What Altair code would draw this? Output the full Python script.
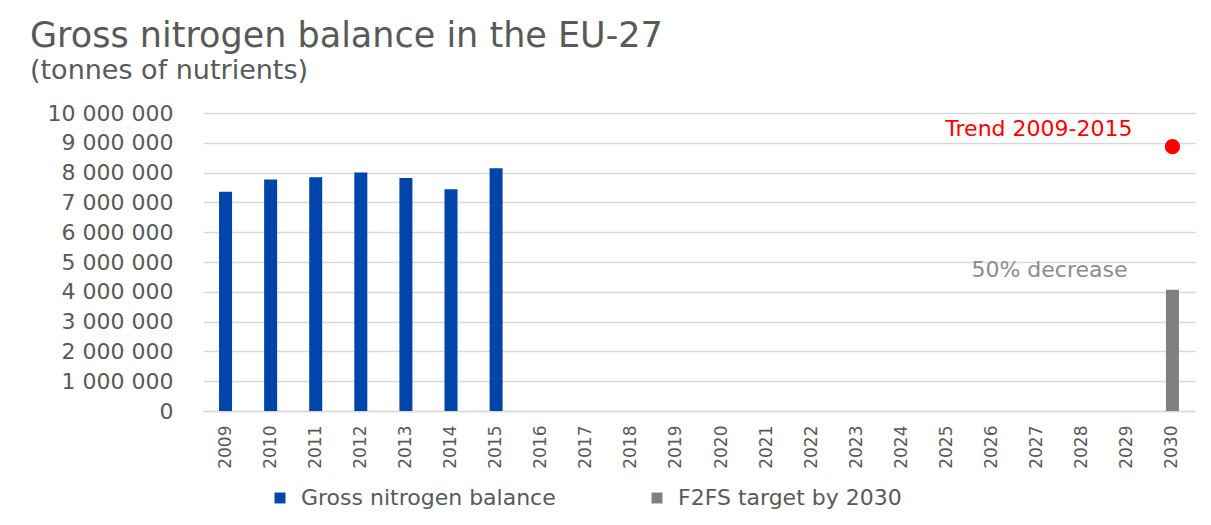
import altair as alt
import pandas as pd

# ---- data ----
years = ["2009", "2010", "2011", "2012", "2013", "2014", "2015", "2016", "2017",
         "2018", "2019", "2020", "2021", "2022", "2023", "2024", "2025", "2026",
         "2027", "2028", "2029", "2030"]

gnb_years = ["2009", "2010", "2011", "2012", "2013", "2014", "2015"]
gnb_values = [7360000, 7770000, 7840000, 8000000, 7820000, 7440000, 8150000]

target_years = ["2030"]
target_values = [4070000]

trend_years = ["2030"]
trend_values = [8870000]

series_names = ["Gross nitrogen balance", "F2FS target by 2030"]
series_colors = ["#0046AA", "#808080"]

y_ticks = [0, 1000000, 2000000, 3000000, 4000000, 5000000, 6000000, 7000000,
           8000000, 9000000, 10000000]

trend_label = "Trend 2009-2015"
target_label = "50% decrease"

# ---- tables ----
bars = pd.DataFrame({
    "year": gnb_years + target_years,
    "value": gnb_values + target_values,
    "series": [series_names[0]] * len(gnb_years) + [series_names[1]] * len(target_years),
})
trend = pd.DataFrame({"year": trend_years, "value": trend_values, "label": [trend_label]})
target = pd.DataFrame({"year": target_years, "value": target_values, "label": [target_label]})

FONT = "DejaVu Sans"
GREY_TXT = "#595959"

x_enc = alt.X("year:O", scale=alt.Scale(domain=years),
              axis=alt.Axis(title=None, labelAngle=-90, labelFontSize=17,
                            labelColor=GREY_TXT, labelFont=FONT, ticks=False,
                            domainColor="#d9d9d9", domainWidth=1.5, labelPadding=14,
                            labelOverlap=False))
y_enc = alt.Y("value:Q", scale=alt.Scale(domain=[0, 10000000]),
              axis=alt.Axis(title=None, values=y_ticks, labelFontSize=22,
                            labelColor=GREY_TXT, labelFont=FONT, ticks=False,
                            domain=False, gridColor="#d9d9d9", gridWidth=1.5,
                            labelPadding=30, labelOverlap=False, tickCount=11,
                            labelExpr="replace(format(datum.value, ','), regexp(',', 'g'), ' ')"))

bar_layer = alt.Chart(bars).mark_bar(size=13).encode(
    x=x_enc,
    y=y_enc,
    color=alt.Color("series:N",
                    scale=alt.Scale(domain=series_names, range=series_colors),
                    legend=alt.Legend(title=None, orient="none", direction="horizontal",
                                      legendX=66, legendY=374, symbolType="square",
                                      symbolSize=120, labelFontSize=22, labelFont=FONT,
                                      labelColor=GREY_TXT, columnPadding=90,
                                      labelOffset=10, labelLimit=400, padding=0)),
)

dot = alt.Chart(trend).mark_point(filled=True, color="#FF0000", size=230, opacity=1).encode(
    x=x_enc,
    y=y_enc,
)

trend_text = alt.Chart(trend).mark_text(
    align="right", baseline="bottom", dx=-40, dy=-6, fontSize=22, font=FONT, color="#FF0000"
).encode(
    x=x_enc,
    y=y_enc,
    text="label:N",
)

target_text = alt.Chart(target).mark_text(
    align="right", baseline="bottom", dx=-45, dy=-8, fontSize=22, font=FONT, color="#8C8C8C"
).encode(
    x=x_enc,
    y=y_enc,
    text="label:N",
)

chart = alt.layer(bar_layer, dot, trend_text, target_text).properties(
    width=992,
    height=298,
    autosize=alt.AutoSizeParams(type="none"),
    padding={"left": 195, "top": 105, "right": 8, "bottom": 110},
    title=alt.TitleParams(
        text="Gross nitrogen balance in the EU-27",
        subtitle="(tonnes of nutrients)",
        anchor="start", frame="group", dx=-173, offset=18,
        font=FONT, fontSize=35, fontWeight="normal", color=GREY_TXT,
        subtitleFont=FONT, subtitleFontSize=27, subtitleColor=GREY_TXT,
        subtitlePadding=4,
    ),
).configure(background="white").configure_view(strokeWidth=0, stroke="transparent")

chart.save("out.html", embed_options={"renderer": "svg", "actions": False})
